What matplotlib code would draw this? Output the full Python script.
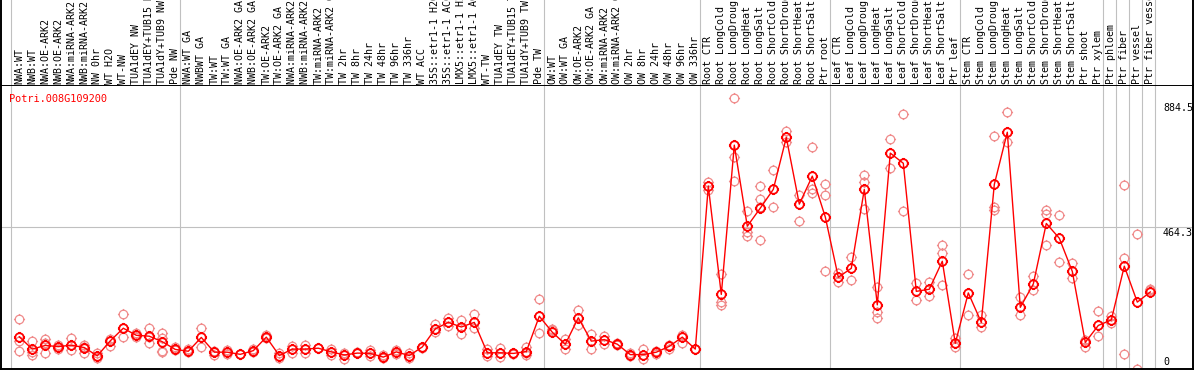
import matplotlib
matplotlib.use("Agg")
import matplotlib.pyplot as plt
from matplotlib.path import Path
import matplotlib.transforms as mtransforms

gene = "Potri.008G109200"

labels = [
    "NWA:WT", "NWB:WT", "NWA:OE-ARK2", "NWB:OE-ARK2", "NWA:miRNA-ARK2", "NWB:miRNA-ARK2",
    "NW 0hr", "WT H2O", "WT-NW", "TUA1dEY NW", "TUA1dEY+TUB15 NW", "TUA1dY+TUB9 NW", "Pde NW",
    "NWA:WT GA", "NWBWT GA", "TW:WT", "TW:WT GA", "NWA:OE-ARK2 GA", "NWB:OE-ARK2 GA",
    "TW:OE-ARK2", "TW:OE-ARK2 GA", "NWA:miRNA-ARK2 GA", "NWB:miRNA-ARK2 GA", "TW:miRNA-ARK2",
    "TW:miRNA-ARK2 GA", "TW 2hr", "TW 8hr", "TW 24hr", "TW 48hr", "TW 96hr", "TW 336hr",
    "WT ACC", "35S::etr1-1 H2O", "35S::etr1-1 ACC", "LMX5::etr1-1 H2O", "LMX5::etr1-1 ACC",
    "WT-TW", "TUA1dEY TW", "TUA1dEY+TUB15 TW", "TUA1dY+TUB9 TW", "Pde TW",
    "OW:WT", "OW:WT GA", "OW:OE-ARK2", "OW:OE-ARK2 GA", "OW:miRNA-ARK2", "OW:miRNA-ARK2 GA",
    "OW 2hr", "OW 8hr", "OW 24hr", "OW 48hr", "OW 96hr", "OW 336hr",
    "Root CTR", "Root LongCold", "Root LongDrought", "Root LongHeat", "Root LongSalt",
    "Root ShortCold", "Root ShortDrought", "Root ShortHeat", "Root ShortSalt", "Ptr root",
    "Leaf CTR", "Leaf LongCold", "Leaf LongDrought", "Leaf LongHeat", "Leaf LongSalt",
    "Leaf ShortCold", "Leaf ShortDrought", "Leaf ShortHeat", "Leaf ShortSalt", "Ptr leaf",
    "Stem CTR", "Stem LongCold", "Stem LongDrought", "Stem LongHeat", "Stem LongSalt",
    "Stem ShortCold", "Stem ShortDrought", "Stem ShortHeat", "Stem ShortSalt", "Ptr shoot",
    "Ptr xylem", "Ptr phloem", "Ptr fiber", "Ptr vessel", "Ptr fiber vessel",
]

means = [
    108, 68, 80, 76, 81, 73, 46, 95, 136, 113, 110, 92, 67,
    61, 106, 58, 58, 51, 63, 107, 47, 68, 68, 71, 59, 49, 55, 54, 42, 59, 47,
    75, 134, 155, 140, 155, 56, 56, 54, 60, 175,
    123, 84, 170, 94, 99, 84, 50, 50, 58, 77, 107, 68,
    598, 246, 732, 468, 527, 588, 757, 540, 631, 498,
    302, 331, 588, 212, 706, 673, 256, 263, 354, 87,
    251, 155, 604, 774, 204, 280, 477, 429, 321, 90, 145,
    163, 338, 221, 254,
]

replicates = [
    [165, 95, 61], [94, 59, 49], [100, 87, 54], [81, 68, 75], [104, 65, 81], [81, 56, 75],
    [54, 38, 46], [100, 78, 94], [182, 106, 137], [119, 106, 114], [137, 87, 107],
    [121, 104, 63, 59], [75, 65, 68],
    [67, 59], [137, 74], [63, 49], [65, 52], [51, 52], [69, 59], [115, 104], [54, 40],
    [78, 55], [80, 56], [71, 72], [69, 49], [55, 37], [55, 59], [66, 47], [49, 40],
    [65, 52], [55, 39],
    [75, 72], [150, 124], [169, 143], [163, 116], [182, 137], [69, 46], [72, 43],
    [54, 52], [76, 49, 55], [230, 121],
    [133, 130], [100, 68], [195, 145], [117, 67], [111, 85], [87, 81], [54, 46],
    [68, 37], [63, 52], [69, 81], [115, 87], [68, 67],
    [613, 586], [312, 222, 211], [885, 694, 614], [517, 450, 437], [598, 556, 531, 422],
    [651, 531], [778, 743], [569, 485], [727, 590, 575], [605, 569, 321],
    [317, 287], [369, 292], [635, 611, 524], [271, 190, 168], [751, 657], [833, 518],
    [282, 229], [285, 240], [407, 380, 276], [103, 76],
    [312, 178], [178, 141], [762, 532, 521], [839, 743], [239, 179], [306, 260],
    [521, 508, 407], [504, 351], [347, 298], [98, 76], [192, 111],
    [176, 152], [601, 364, 51], [442, 2], [264, 260],
]

group_starts = [0, 13, 41, 53, 63, 73, 84, 85, 86, 87, 88]
y_ticks = [884.5, 464.3, 0]
y_tick_offsets_px = [12.7, 8.6, -5.0]  # baseline offset below the value (layout)

# ---------------- layout (pixels) ----------------
W, H = 1194, 370
PL, PR, PT, PB = 1, 1193, 85, 369
X0_PX, DX_PX = 19.3, 13.0
Y0_PX, DY_PX = 370.0, 0.3072

xlim = ((PL - X0_PX) / DX_PX, (PR - X0_PX) / DX_PX)
ylim = ((Y0_PX - PB) / DY_PX, (Y0_PX - PT) / DY_PX)

fig = plt.figure(figsize=(W / 100, H / 100), dpi=100)
fig.patch.set_facecolor("white")

ax = fig.add_axes([PL / W, (H - PB) / H, (PR - PL) / W, (PB - PT) / H])
hax = fig.add_axes([PL / W, (H - PT) / H, (PR - PL) / W, PT / H])

ax.set_xlim(*xlim)
ax.set_ylim(*ylim)
hax.set_xlim(*xlim)
hax.set_ylim(PT, 0)

for a in (ax, hax):
    a.set_xticks([])
    a.set_yticks([])
    a.set_facecolor("white")
    for s in a.spines.values():
        s.set_color("black")
        s.set_linewidth(1.4)
hax.spines["top"].set_visible(False)
hax.spines["bottom"].set_visible(False)

grid_col = "#c0c0c0"
for b in group_starts:
    ax.axvline(b - 0.65, color=grid_col, lw=0.8, zorder=0)
    hax.axvline(b - 0.65, color=grid_col, lw=0.8, zorder=0)
ax.axhline(y_ticks[1], color=grid_col, lw=0.8, zorder=0)

# custom marker: circle with four small outer ticks
circ = Path.unit_circle()
tk = 1.3
ticks = Path(
    [(0, 1), (0, tk), (0, -1), (0, -tk), (1, 0), (tk, 0), (-1, 0), (-tk, 0)],
    [Path.MOVETO, Path.LINETO] * 4,
)
mk = Path.make_compound_path(circ, ticks)

xs = list(range(len(means)))
rx, ry = [], []
for i, reps in enumerate(replicates):
    for v in reps:
        rx.append(i)
        ry.append(v)

ax.plot(rx, ry, ls="none", marker=mk, ms=8.0, mfc="none", mec="#f08c8c", mew=0.9, zorder=2)
ax.plot(xs, means, color="#ff0000", lw=1.0, zorder=3)
ax.plot(xs, means, ls="none", marker=mk, ms=8.0, mfc="none", mec="#ff0000", mew=1.3, zorder=4)

mono = "DejaVu Sans Mono"
for i, lab in enumerate(labels):
    hax.text(i, 83.5, lab, rotation=90, ha="center", va="bottom", fontfamily=mono,
             fontsize=7.2, color="black", clip_on=True)

# right-hand value labels
xfrac = (1163 - PL) / (PR - PL)
trans = mtransforms.blended_transform_factory(ax.transAxes, ax.transData)
for v, off in zip(y_ticks, y_tick_offsets_px):
    txt = ("%g" % v)
    ax.annotate(txt, xy=(xfrac, v), xycoords=trans, xytext=(0, -off),
                textcoords="offset pixels", ha="left", va="baseline",
                fontfamily=mono, fontsize=7.2, color="black", annotation_clip=False)

ax.text((9.0 - PL) / (PR - PL), (PB - 101.7) / (PB - PT), gene,
        transform=ax.transAxes, ha="left", va="baseline", fontfamily=mono,
        fontsize=7.4, color="#ff0000")

fig.savefig("out.png", dpi=100, facecolor="white")
